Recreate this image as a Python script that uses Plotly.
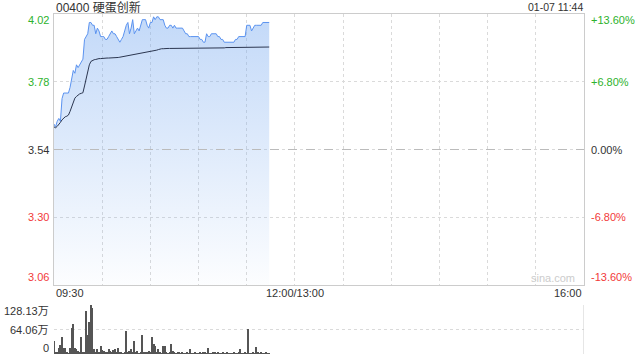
import plotly.graph_objects as go

# ---- data ----
title_text = "00400 硬蛋创新"
stamp_text = "01-07 11:44"
prev_close = 3.54
price_ticks = [3.06, 3.30, 3.54, 3.78, 4.02]
pct_ticks = ["-13.60%", "-6.80%", "0.00%", "+6.80%", "+13.60%"]
time_tick_vals = [0, 150, 330]
time_tick_text = ["09:30", "12:00/13:00", "16:00"]
vol_ticks = [0, 64.06, 128.13]
vol_tick_text = ["0", "64.06万", "128.13万"]

price = [
    3.63, 3.62, 3.64, 3.65, 3.64, 3.72, 3.74, 3.74, 3.74, 3.74,
    3.76, 3.79, 3.82, 3.81, 3.84, 3.83, 3.84, 3.85, 3.86, 3.93,
    3.94, 3.95, 3.99, 3.99, 3.98, 3.98, 3.95, 3.97, 3.96, 3.94,
    3.94, 3.94, 3.93, 3.93, 3.94, 3.95, 3.96, 3.95, 3.95, 3.94,
    3.93, 3.92, 3.93, 3.94, 3.96, 3.98, 3.99, 3.95, 3.97, 4.00,
    3.95, 3.96, 3.97, 3.96, 3.98, 4.00, 4.00, 4.00, 3.98, 3.97,
    3.99, 3.99, 4.01, 4.00, 4.01, 4.01, 4.00, 4.00, 4.00, 3.98,
    3.97, 3.97, 3.98, 3.98, 3.97, 3.98, 3.97, 3.97, 3.97, 3.97,
    3.97, 3.96, 3.95, 3.95, 3.94, 3.94, 3.94, 3.94, 3.94, 3.94,
    3.94, 3.93, 3.93, 3.92, 3.92, 3.95, 3.94, 3.94, 3.95, 3.95,
    3.95, 3.95, 3.94, 3.94, 3.93, 3.93, 3.92, 3.92, 3.92, 3.92,
    3.92, 3.92, 3.92, 3.93, 3.93, 3.94, 3.94, 3.94, 3.94, 3.94,
    3.98, 3.98, 3.98, 3.96, 3.97, 3.98, 3.98, 3.98, 3.98, 3.98,
    3.99, 3.99, 3.99, 3.99, 3.99,
]

avg_price = [
    3.620, 3.617, 3.622, 3.628, 3.636, 3.645, 3.652, 3.656, 3.658, 3.662,
    3.675, 3.690, 3.708, 3.722, 3.728, 3.733, 3.737, 3.739, 3.741, 3.765,
    3.790, 3.812, 3.840, 3.852, 3.856, 3.858, 3.859, 3.861, 3.862, 3.862,
    3.863, 3.863, 3.863, 3.864, 3.864, 3.864, 3.865, 3.865, 3.865, 3.866,
    3.866, 3.867, 3.868, 3.869, 3.871, 3.872, 3.873, 3.874, 3.875, 3.877,
    3.878, 3.879, 3.880, 3.881, 3.882, 3.883, 3.884, 3.885, 3.886, 3.887,
    3.887, 3.888, 3.889, 3.890, 3.892, 3.894, 3.896, 3.897, 3.897, 3.898,
    3.898, 3.898, 3.898, 3.898, 3.899, 3.899, 3.899, 3.899, 3.899, 3.899,
    3.899, 3.899, 3.899, 3.899, 3.899, 3.899, 3.899, 3.899, 3.899, 3.899,
    3.899, 3.899, 3.899, 3.899, 3.899, 3.899, 3.899, 3.899, 3.900, 3.900,
    3.900, 3.900, 3.900, 3.900, 3.900, 3.900, 3.900, 3.901, 3.901, 3.901,
    3.901, 3.901, 3.901, 3.901, 3.901, 3.902, 3.902, 3.902, 3.902, 3.902,
    3.902, 3.903, 3.903, 3.903, 3.903, 3.903, 3.903, 3.903, 3.903, 3.903,
    3.903, 3.903, 3.903, 3.903, 3.903,
]

volume = [  # 万股 per minute
    33, 3, 5, 16, 24, 44, 15, 16, 4, 2,
    15, 68, 78, 17, 13, 8, 3, 44, 5, 3,
    113, 50, 84, 128, 120, 13, 4, 12, 3, 22,
    10, 8, 6, 3, 12, 9, 3, 10, 14, 4,
    17, 3, 5, 2, 3, 59, 6, 9, 14, 3,
    33, 3, 8, 2, 6, 49, 3, 4, 6, 8,
    3, 44, 25, 20, 4, 14, 3, 2, 20, 20,
    6, 2, 3, 26, 8, 3, 2, 5, 5, 2,
    3, 2, 2, 5, 2, 12, 2, 2, 3, 2,
    2, 3, 2, 6, 5, 2, 16, 2, 2, 3,
    3, 2, 5, 2, 2, 3, 2, 2, 3, 2,
    2, 2, 3, 2, 2, 3, 13, 2, 2, 3,
    2, 65, 2, 2, 3, 2, 18, 5, 2, 3,
    2, 2, 3, 2, 2,
]

minutes = list(range(len(price)))

# ---- style ----
FONT = "Liberation Sans, Arial, Noto Sans CJK SC, sans-serif"
GREEN = "#2db22d"
RED = "#f23a3a"
DARK = "#333333"
GRID = "#dadada"
BORDER = "#cccccc"
W, H = 640, 360
px_x = lambda p: p / W
px_y = lambda p: 1 - p / H

fig = go.Figure()

fig.add_trace(go.Scatter(
    x=minutes, y=price, mode="lines",
    line=dict(color="#5b93f0", width=1),
    fill="tozeroy",
    fillgradient=dict(
        type="vertical",
        colorscale=[[0, "rgba(120,170,240,0.02)"], [1, "rgba(120,170,240,0.45)"]],
        start=price_ticks[0], stop=price_ticks[-1],
    ),
    hoverinfo="skip", xaxis="x", yaxis="y",
))
fig.add_trace(go.Scatter(
    x=minutes, y=avg_price, mode="lines",
    line=dict(color="#2b3650", width=1),
    hoverinfo="skip", xaxis="x", yaxis="y",
))
fig.add_trace(go.Bar(
    x=minutes, y=volume, width=0.7,
    marker=dict(color="#555555", line=dict(width=0)),
    hoverinfo="skip", xaxis="x2", yaxis="y2",
))

xdom = [px_x(54), px_x(584)]
fig.update_layout(
    width=W, height=H,
    margin=dict(l=0, r=0, t=0, b=0),
    paper_bgcolor="white", plot_bgcolor="rgba(0,0,0,0)",
    showlegend=False, bargap=0,
    font=dict(family=FONT, size=11, color=DARK),
    xaxis=dict(
        domain=xdom, anchor="y", range=[0, 330],
        tickvals=list(range(30, 330, 30)), showticklabels=False, ticks="",
        showgrid=True, gridcolor=GRID, griddash="dot", gridwidth=1,
        showline=True, mirror=True, linecolor=BORDER, linewidth=1,
        zeroline=False, fixedrange=True,
    ),
    yaxis=dict(
        domain=[px_y(285), px_y(14)], anchor="x", range=[price_ticks[0], price_ticks[-1]],
        tickvals=price_ticks, showticklabels=False, ticks="",
        showgrid=True, gridcolor=GRID, griddash="dot", gridwidth=1,
        showline=True, mirror=True, linecolor=BORDER, linewidth=1,
        zeroline=False, fixedrange=True,
    ),
    xaxis2=dict(
        domain=xdom, anchor="y2", range=[0, 330],
        showticklabels=False, ticks="", showgrid=False, showline=False,
        zeroline=False, fixedrange=True,
    ),
    yaxis2=dict(
        domain=[px_y(354), px_y(305)], anchor="x2", range=[vol_ticks[0], vol_ticks[-1]],
        tickvals=vol_ticks, showticklabels=False, ticks="",
        showgrid=True, gridcolor=GRID, griddash="dot", gridwidth=1,
        showline=False, zeroline=False, fixedrange=True,
    ),
)

shapes = [
    dict(type="line", xref="x", yref="y", x0=0, x1=330, y0=prev_close, y1=prev_close,
         line=dict(color="#bbbbbb", width=1, dash="dash"), layer="above"),
    dict(type="line", xref="x2", yref="y2", x0=330, x1=330, y0=vol_ticks[0], y1=vol_ticks[-1],
         line=dict(color=BORDER, width=1), layer="above"),
]
fig.update_layout(shapes=shapes)

ann = []
ann.append(dict(text=title_text, xref="paper", yref="paper", x=px_x(54), y=px_y(7),
                xanchor="left", yanchor="middle", showarrow=False,
                font=dict(size=12, color=DARK)))
ann.append(dict(text=stamp_text, xref="paper", yref="paper", x=px_x(585), y=px_y(7),
                xanchor="right", yanchor="middle", showarrow=False,
                font=dict(size=10.5, color=DARK)))
for i, (pv, pt) in enumerate(zip(price_ticks, pct_ticks)):
    if pv > prev_close:
        col = GREEN
    elif pv < prev_close:
        col = RED
    else:
        col = DARK
    shift = 0
    if i == len(price_ticks) - 1:
        shift = -6
    elif i == 0:
        shift = 8
    ann.append(dict(text=f"{pv:.2f}", xref="paper", yref="y", x=px_x(51), y=pv,
                    yshift=shift, xanchor="right", yanchor="middle", showarrow=False,
                    font=dict(size=11, color=col)))
    ann.append(dict(text=pt, xref="paper", yref="y", x=px_x(589), y=pv,
                    yshift=shift, xanchor="left", yanchor="middle", showarrow=False,
                    font=dict(size=11, color=col)))
anchors = ["left", "center", "right"]
for tv, tt, a in zip(time_tick_vals, time_tick_text, anchors):
    ann.append(dict(text=tt, xref="x", yref="paper", x=tv, y=px_y(293),
                    xanchor=a, yanchor="middle", showarrow=False,
                    font=dict(size=11, color=DARK)))
vol_pos = [348, 330, 311]
for vv, vt, yy in zip(vol_ticks, vol_tick_text, vol_pos):
    ann.append(dict(text=vt, xref="paper", yref="paper", x=px_x(51), y=px_y(yy),
                    xanchor="right", yanchor="middle", showarrow=False,
                    font=dict(size=11, color=DARK)))
ann.append(dict(text="sina.com", xref="paper", yref="paper", x=px_x(553), y=px_y(278),
                xanchor="center", yanchor="middle", showarrow=False,
                font=dict(size=11, color="#cccccc")))
fig.update_layout(annotations=ann)

fig.write_html("out.html", config={"displayModeBar": False})
